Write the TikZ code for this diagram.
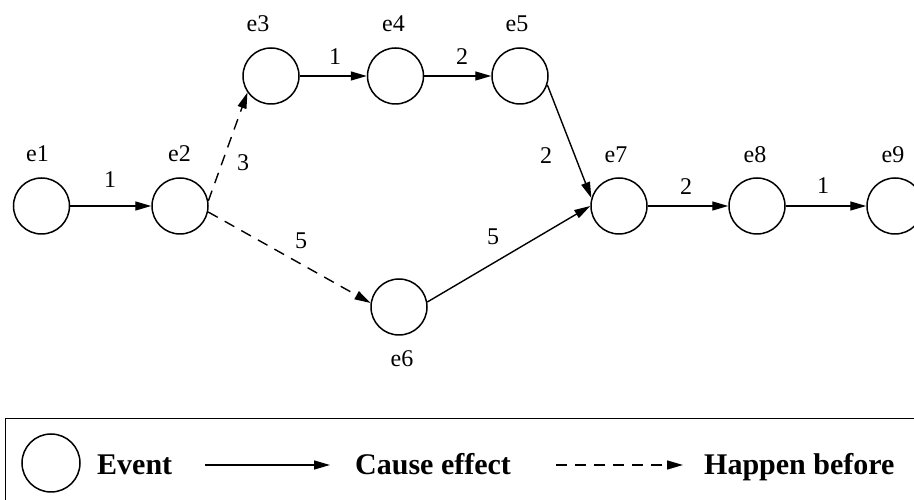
\documentclass[tikz,border=0pt]{standalone}
\usepackage{fontspec}
\setmainfont{Liberation Serif}
\usetikzlibrary{arrows.meta}
\tikzset{
  event/.style={circle, draw, line width=1.5pt, minimum size=56pt, inner sep=0pt},
  evlabel/.style={font=\fontsize{24}{27}\selectfont, inner sep=0pt},
  wlabel/.style={font=\fontsize{24}{27}\selectfont, inner sep=0pt},
  cause/.style={line width=1.4pt, -{Triangle[length=16pt,width=9pt]}},
  before/.style={cause, dash pattern=on 11pt off 8pt},
  legtext/.style={font=\fontsize{30}{34}\selectfont\bfseries, inner sep=0pt, anchor=base west}
}
\begin{document}
\begin{tikzpicture}[x=1pt,y=1pt]
\useasboundingbox (0,0) rectangle (914,500);
% events
\node[event] (e1) at (41.5,294) {};
\node[event] (e2) at (180,294) {};
\node[event] (e3) at (271,424) {};
\node[event] (e4) at (395.5,424) {};
\node[event] (e5) at (520,424) {};
\node[event] (e6) at (399,193) {};
\node[event] (e7) at (619,294) {};
\node[event] (e8) at (757,294) {};
\node[event] (e9) at (895,294) {};
% event labels
\node[evlabel] (l1) at (37.5,346) {e1};
\node[evlabel] (l2) at (179.5,346) {e2};
\node[evlabel] (l3) at (258,476.5) {e3};
\node[evlabel] (l4) at (393.5,476.5) {e4};
\node[evlabel] (l5) at (517,476.5) {e5};
\node[evlabel] (l6) at (402,141) {e6};
\node[evlabel] (l7) at (616,345) {e7};
\node[evlabel] (l8) at (755,345) {e8};
\node[evlabel] (l9) at (893,345) {e9};
% connectors
\draw[cause] (e1.east) -- (e2.west);
\draw[before] (e2.10) -- (e3.215);
\draw[before] (e2.-12) -- (e6.172);
\draw[cause] (e3.east) -- (e4.west);
\draw[cause] (e4.east) -- (e5.west);
\draw[cause] (e5.-18) -- (e7.164);
\draw[cause] (e6.10) -- (e7.west);
\draw[cause] (e7.east) -- (e8.west);
\draw[cause] (e8.east) -- (e9.west);
% weights
\node[wlabel] (w12) at (110,320) {1};
\node[wlabel] (w23) at (243,337) {3};
\node[wlabel] (w26) at (301,259) {5};
\node[wlabel] (w34) at (335,443) {1};
\node[wlabel] (w45) at (462,443) {2};
\node[wlabel] (w57) at (546,344) {2};
\node[wlabel] (w67) at (493,263) {5};
\node[wlabel] (w78) at (686,313) {2};
\node[wlabel] (w89) at (823,314) {1};
% legend
\begin{scope}
\clip (0,0) rectangle (914,500);
\draw[line width=1pt] (5,-20) rectangle (940,81);
\end{scope}
\node[event, minimum size=58pt] (lev) at (51,37) {};
\node[legtext] (tev) at (97,25) {Event};
\coordinate (ca) at (205,35);
\coordinate (cb) at (330,35);
\draw[cause] (ca) -- (cb);
\node[legtext] (tce) at (355,25) {Cause effect};
\coordinate (da) at (556,35);
\coordinate (db) at (683,35);
\draw[before] (da) -- (db);
\node[legtext] (thb) at (704,25) {Happen before};
\end{tikzpicture}
\end{document}
